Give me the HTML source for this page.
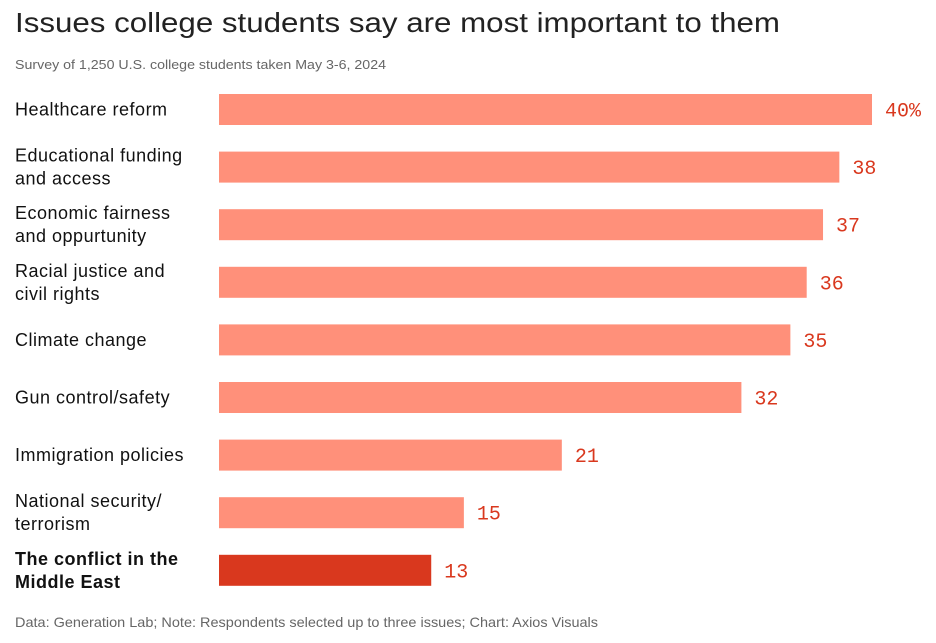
<!DOCTYPE html>
<html><head><meta charset="utf-8"><style>
html,body{margin:0;padding:0;background:#fff;}
svg{display:block;font-family:"Liberation Sans",sans-serif;}
</style></head><body>
<svg id="chart" width="936" height="643" viewBox="0 0 936 643" xmlns="http://www.w3.org/2000/svg">
<text x="15" y="32" font-size="28" fill="#222" textLength="765" lengthAdjust="spacingAndGlyphs">Issues college students say are most important to them</text>
<text x="15" y="69" font-size="13" fill="#666" textLength="371" lengthAdjust="spacingAndGlyphs">Survey of 1,250 U.S. college students taken May 3-6, 2024</text>
<g id="bars"></g>
<text x="15" y="627" font-size="14" fill="#666" textLength="583" lengthAdjust="spacingAndGlyphs">Data: Generation Lab; Note: Respondents selected up to three issues; Chart: Axios Visuals</text>
</svg>
<script>
const categories = [["Healthcare reform"],["Educational funding","and access"],["Economic fairness","and oppurtunity"],["Racial justice and","civil rights"],["Climate change"],["Gun control/safety"],["Immigration policies"],["National security/","terrorism"],["The conflict in the","Middle East"]];
const values = [40,38,37,36,35,32,21,15,13];
const highlight = [false,false,false,false,false,false,false,false,true];
const NS="http://www.w3.org/2000/svg";
const x0=219, xMax=872, maxV=40;
const xScale=v=>x0+(xMax-x0)*v/maxV;
const yScale=i=>94+i*57.6;
const bh=31;
const g=document.getElementById('bars');
values.forEach((v,i)=>{
  const y=yScale(i), cy=y+bh/2;
  const r=document.createElementNS(NS,'rect');
  
  
  r.setAttribute('x',x0);r.setAttribute('y',y);
  r.setAttribute('width',xScale(v)-x0);r.setAttribute('height',bh);
  r.setAttribute('fill',highlight[i]?'#d9381e':'#ff907a');
  g.appendChild(r);
  const t=document.createElementNS(NS,'text');
  
  
  t.setAttribute('x',xScale(v)+13);t.setAttribute('y',cy+7);
  t.setAttribute('font-family','"Liberation Mono",monospace');
  t.setAttribute('font-size','20');t.setAttribute('fill','#d9381e');
  t.textContent=v+(i===0?'%':'');
  g.appendChild(t);
  const lines=categories[i];
  lines.forEach((ln,k)=>{
    const l=document.createElementNS(NS,'text');
    
    
    l.setAttribute('x',15);
    const off=lines.length===1?0:(k===0?-11.5:11.5);
    l.setAttribute('y',cy+off+6);
    l.setAttribute('font-size','18');
    l.setAttribute('letter-spacing','0.5');
    l.setAttribute('fill','#111');
    if(highlight[i]) l.setAttribute('font-weight','bold');
    l.textContent=ln;
    g.appendChild(l);
  });
});
</script>
</body></html>
